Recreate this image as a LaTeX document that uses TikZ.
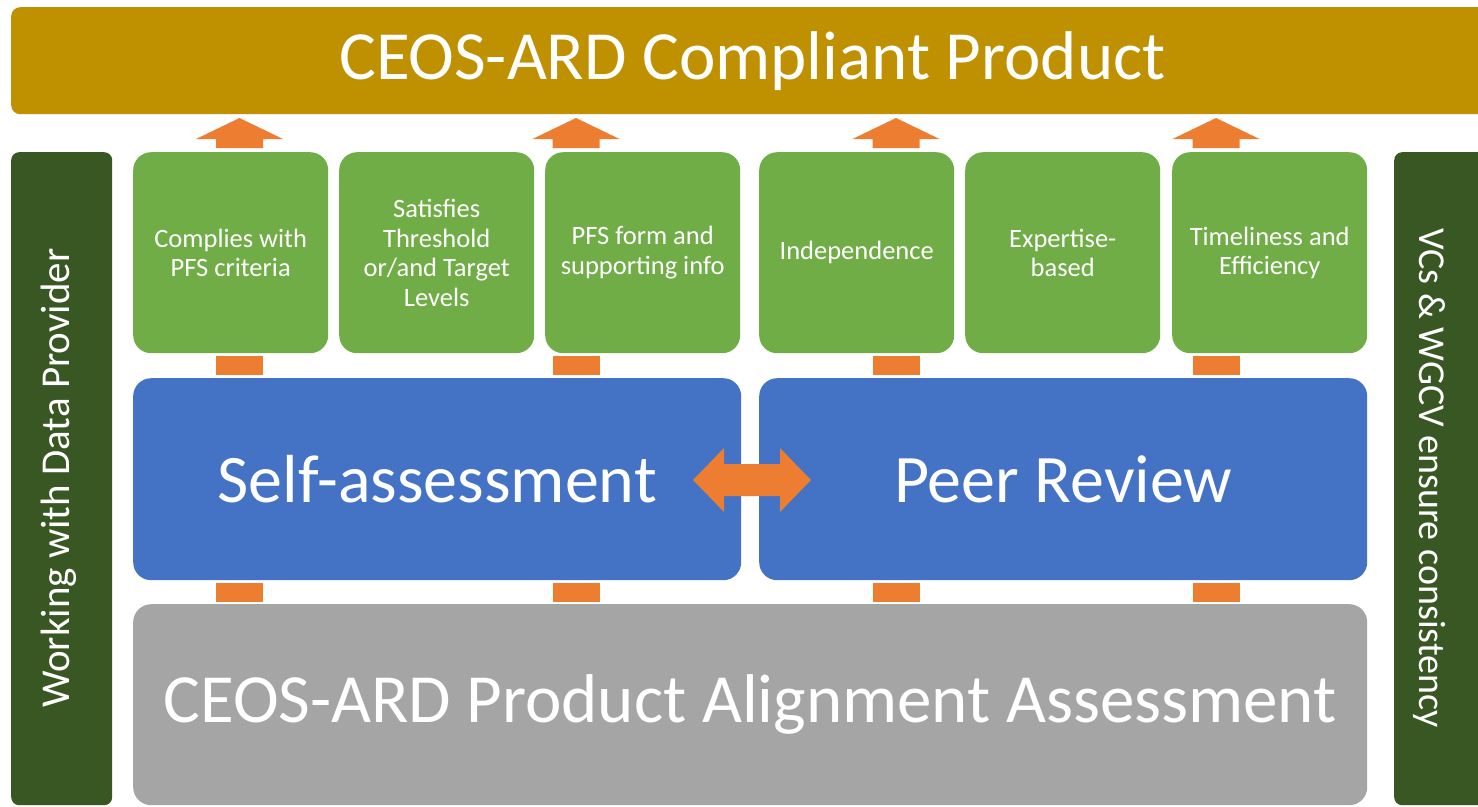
\documentclass[tikz,border=0pt]{standalone}
\usepackage{fontspec}
\setmainfont{Carlito}
\usetikzlibrary{calc}
\definecolor{cgold}{HTML}{BF9000}
\definecolor{cgreen}{HTML}{70AD47}
\definecolor{cdark}{HTML}{385723}
\definecolor{cblue}{HTML}{4472C4}
\definecolor{corange}{HTML}{ED7D31}
\definecolor{cgray}{HTML}{A5A5A5}
\tikzset{
  blk/.style={anchor=north west, inner sep=0pt, text=white, align=center},
  gbox/.style={blk, fill=cgreen, rounded corners=18pt, minimum width=195pt, minimum height=201pt, font=\fontsize{26.5}{29.5}\selectfont},
  bbox/.style={blk, fill=cblue, rounded corners=18pt, minimum width=608pt, minimum height=202pt, font=\fontsize{68}{72}\selectfont},
  sidebar/.style={blk, fill=cdark, rounded corners=8pt},
  sidetext/.style={text=white, inner sep=0pt, font=\fontsize{41}{44}\selectfont},
  orng/.style={fill=corange},
}
\newcommand{\uparr}[1]{%
  \fill[orng] (#1-23.5,148) -- (#1-23.5,139) -- (#1-43.5,139) -- (#1,118) -- (#1+43.5,139) -- (#1+23.5,139) -- (#1+23.5,148) -- cycle;}
\begin{document}
\begin{tikzpicture}[x=1pt,y=-1pt]
\useasboundingbox[fill=white] (0,0) rectangle (1478,806);
% top band
\node[blk, fill=cgold, rounded corners=9pt, minimum width=1483pt, minimum height=107pt, font=\fontsize{69}{72}\selectfont] (top) at (11,7) {CEOS-ARD Compliant Product};
% side bars
\node[sidebar, minimum width=101pt, minimum height=653pt] (lbar) at (11,152) {};
\node[sidebar, minimum width=110pt, minimum height=653pt] (rbar) at (1394,152) {};
\node[sidetext, rotate=90] (ltext) at (59,478) {Working with Data Provider};
\node[sidetext, rotate=-90, font=\fontsize{38}{40}\selectfont] (rtext) at (1429,478) {VCs \& WGCV ensure consistency};
% green boxes
\node[gbox] (g1) at (133,152) {Complies with\\PFS criteria};
\node[gbox] (g2) at (339,152) {Satisfies\\Threshold\\or/and Target\\Levels};
\node[gbox] (g3) at (545,152) {PFS form and\\supporting info};
\node[gbox] (g4) at (759,152) {Independence};
\node[gbox] (g5) at (965,152) {Expertise-\\based};
\node[gbox] (g6) at (1172,152) {Timeliness and\\Efficiency};
% blue boxes
\node[bbox] (self) at (133,378) {Self-assessment};
\node[bbox] (peer) at (759,378) {Peer Review};
% gray box
\node[blk, fill=cgray, rounded corners=18pt, minimum width=1234pt, minimum height=201pt, font=\fontsize{69}{72}\selectfont] (base) at (133,604) {CEOS-ARD Product Alignment Assessment};
% up arrows into top band
\foreach \c in {239.5,576,896,1216}{\uparr{\c}}
% small connectors
\foreach \c in {239.5,576,896,1216}{
  \fill[orng] (\c-23.5,356) rectangle (\c+23.5,375);
  \fill[orng] (\c-23.5,583) rectangle (\c+23.5,602);
}
% double arrow between self and peer
\coordinate (dl) at (693,480);
\coordinate (dr) at (811,480);
\fill[orng] (dl) -- (724,448) -- (724,464) -- (780,464) -- (780,448) -- (dr) -- (780,512) -- (780,496) -- (724,496) -- (724,512) -- cycle;
\end{tikzpicture}
\end{document}
